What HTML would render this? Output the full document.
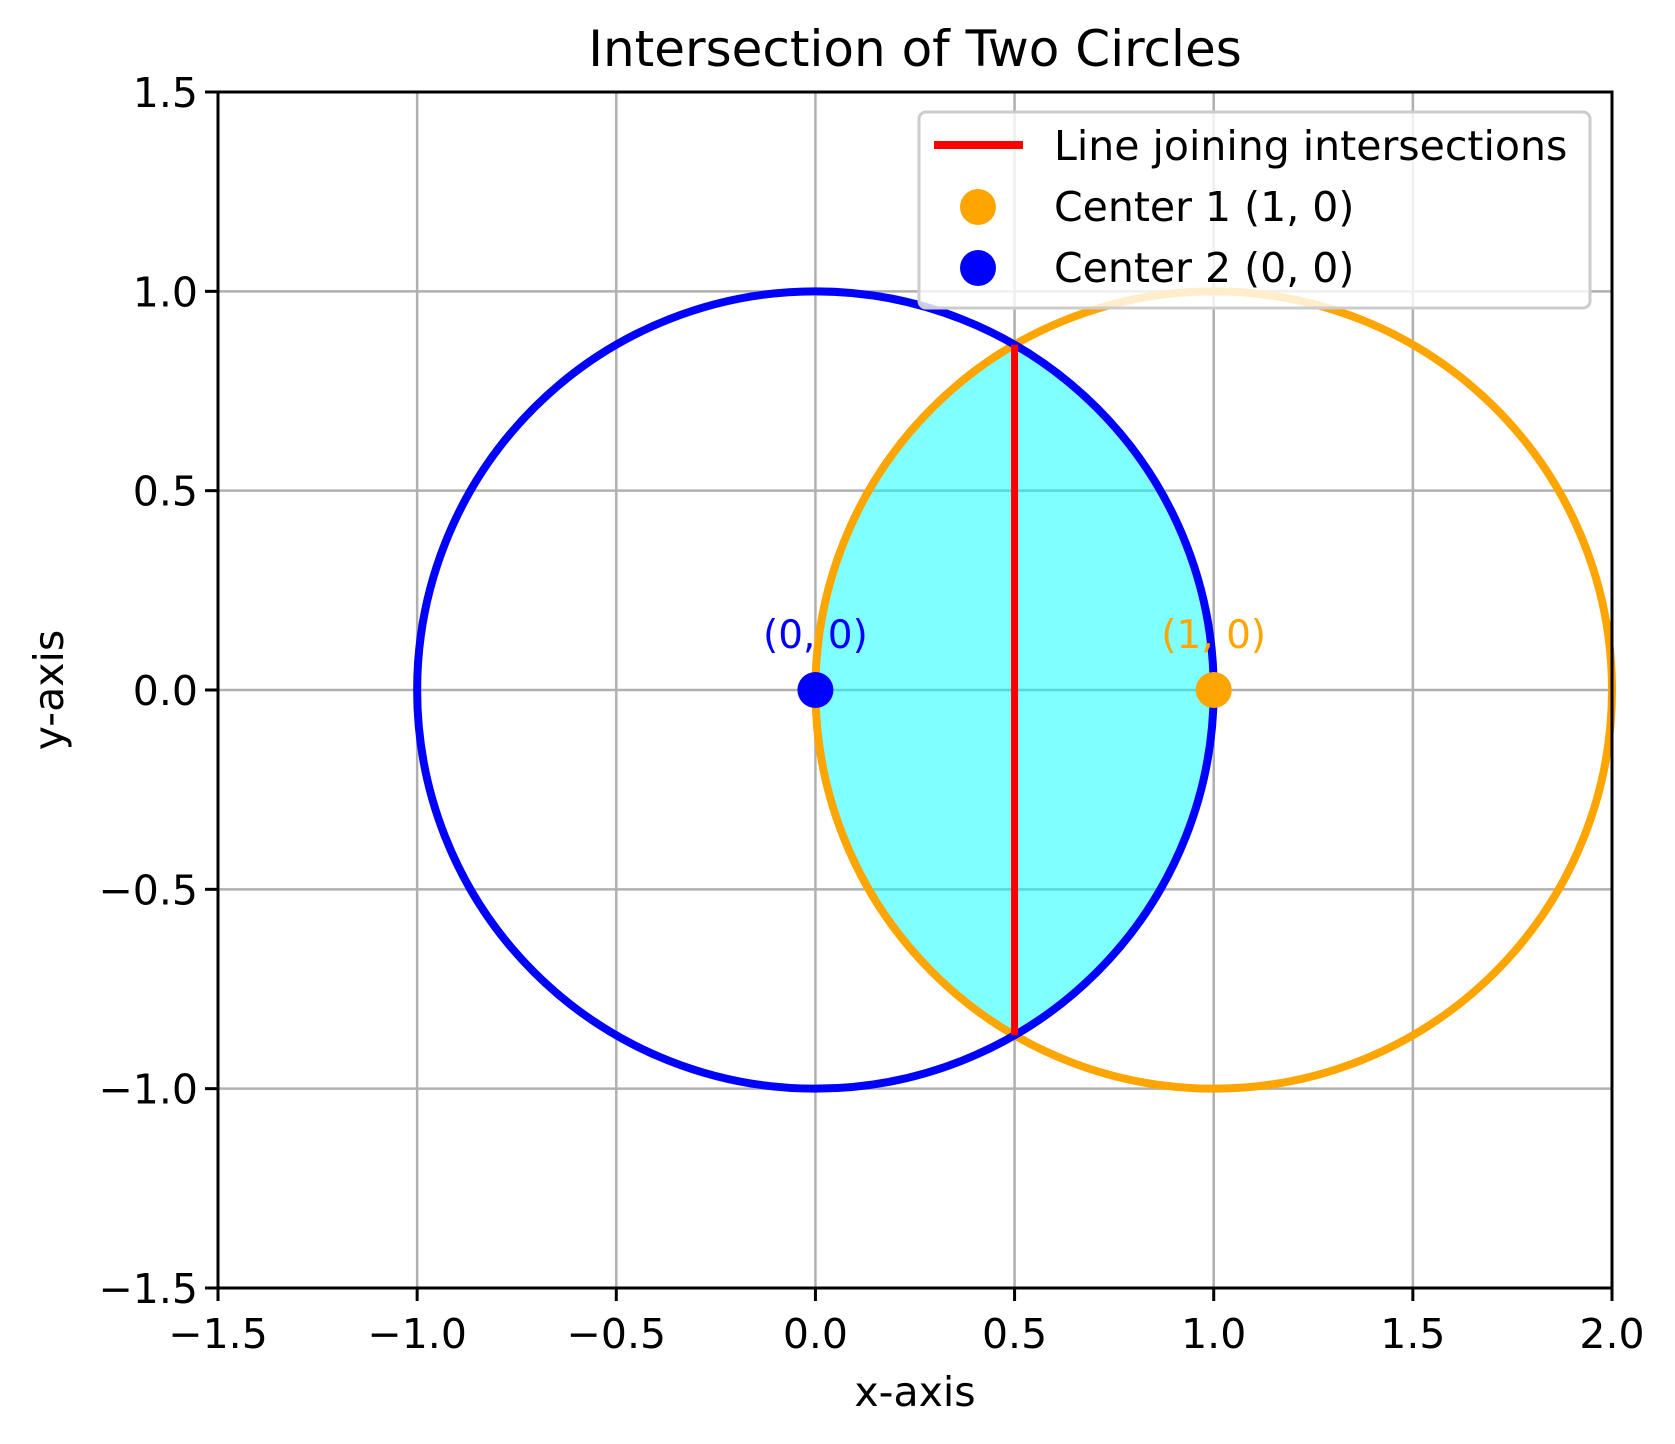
<!DOCTYPE html>
<html><head><meta charset="utf-8"><style>
html,body{margin:0;padding:0;background:#fff;}
svg{display:block;font-family:"DejaVu Sans","Liberation Sans",sans-serif;}
</style></head><body>
<svg id="chart" width="1675" height="1444" viewBox="0 0 1675 1444">
<rect width="1675" height="1444" fill="#fff"/>
<g id="grid"></g>
<g id="plot"></g>
<g id="axes"></g>
<text x="915" y="66" font-size="50" text-anchor="middle">Intersection of Two Circles</text>
<text x="915" y="1406" font-size="41" text-anchor="middle">x-axis</text>
<text x="0" y="0" font-size="41" text-anchor="middle" transform="translate(63,690) rotate(-90)">y-axis</text>
<g>
<rect x="919" y="112" width="671" height="196" rx="7" fill="#fff" fill-opacity="0.8" stroke="#ccc" stroke-width="3"/>
<line x1="934" y1="145" x2="1023" y2="145" stroke="#ff0000" stroke-width="8"/>
<text x="1054" y="160" font-size="41">Line joining intersections</text>
<circle cx="978" cy="207" r="18" fill="orange"/>
<text x="1054" y="221" font-size="41">Center 1 (1, 0)</text>
<circle cx="978" cy="268" r="18" fill="blue"/>
<text x="1054" y="282" font-size="41">Center 2 (0, 0)</text>
</g>
</svg>
<script>
const xTicks=[-1.5,-1.0,-0.5,0.0,0.5,1.0,1.5,2.0];
const yTicks=[-1.5,-1.0,-0.5,0.0,0.5,1.0,1.5];
const centers=[[1,0],[0,0]];
const radii=[1,1];
const centerLabels=["(1, 0)","(0, 0)"];
const colors=["orange","blue"];
const xMin=-1.5,xMax=2.0,yMin=-1.5,yMax=1.5;
const L=218,R=1612,T=92,B=1288;
const sx=v=>L+(v-xMin)/(xMax-xMin)*(R-L);
const sy=v=>B-(v-yMin)/(yMax-yMin)*(B-T);
const NS="http://www.w3.org/2000/svg";
function mk(tag,attrs,parent){const e=document.createElementNS(NS,tag);for(const k in attrs)e.setAttribute(k,attrs[k]);parent.appendChild(e);return e;}
const grid=document.getElementById('grid'),plot=document.getElementById('plot'),axes=document.getElementById('axes');
const fmt=v=>(v<0?'\u2212':'')+Math.abs(v).toFixed(1);
xTicks.forEach(v=>{
 const g=mk('line',{x1:sx(v),x2:sx(v),y1:T,y2:B,stroke:'#b0b0b0','stroke-width':2.5},grid);
 
 
 const t=mk('line',{x1:sx(v),x2:sx(v),y1:B,y2:B+13,stroke:'#000','stroke-width':3},axes);
 
 
 const l=mk('text',{x:sx(v),y:B+60,'font-size':41,'text-anchor':'middle'},axes);
 l.textContent=fmt(v);
 
 
});
yTicks.forEach(v=>{
 const g=mk('line',{x1:L,x2:R,y1:sy(v),y2:sy(v),stroke:'#b0b0b0','stroke-width':2.5},grid);
 
 
 const t=mk('line',{x1:L-13,x2:L,y1:sy(v),y2:sy(v),stroke:'#000','stroke-width':3},axes);
 
 
 const l=mk('text',{x:L-20,y:sy(v)+15,'font-size':41,'text-anchor':'end'},axes);
 l.textContent=fmt(v);
 
 
});
const fr=mk('rect',{x:L,y:T,width:R-L,height:B-T,fill:'none',stroke:'#000','stroke-width':3},axes);


const [c1,c2]=centers,r1=radii[0],r2=radii[1];
const dx=c2[0]-c1[0],dy=c2[1]-c1[1],d=Math.hypot(dx,dy);
const a=(r1*r1-r2*r2+d*d)/(2*d),h=Math.sqrt(Math.max(0,r1*r1-a*a));
const mx=c1[0]+a*dx/d,my=c1[1]+a*dy/d;
const p1=[mx+h*dy/d,my-h*dx/d],p2=[mx-h*dy/d,my+h*dx/d];
const rx1=(sx(r1)-sx(0)),rx2=(sx(r2)-sx(0));
const lens=mk('path',{d:`M${sx(p1[0])},${sy(p1[1])} A${rx1},${rx1} 0 0 0 ${sx(p2[0])},${sy(p2[1])} A${rx2},${rx2} 0 0 0 ${sx(p1[0])},${sy(p1[1])} Z`,fill:'#00ffff','fill-opacity':0.5,stroke:'none'},plot);


centers.forEach((c,i)=>{
 const e=mk('ellipse',{cx:sx(c[0]),cy:sy(c[1]),rx:sx(radii[i])-sx(0),ry:sy(0)-sy(radii[i]),fill:'none',stroke:colors[i],'stroke-width':8},plot);
 
 
});
const rl=mk('line',{x1:sx(p1[0]),y1:sy(p1[1]),x2:sx(p2[0]),y2:sy(p2[1]),stroke:'#ff0000','stroke-width':7},plot);


centers.forEach((c,i)=>{
 const m=mk('circle',{cx:sx(c[0]),cy:sy(c[1]),r:18,fill:colors[i]},plot);
 
 
 const t=mk('text',{x:sx(c[0]),y:sy(c[1])-42,'font-size':39,'text-anchor':'middle',fill:colors[i]},plot);
 t.textContent=centerLabels[i];
 
 
});
</script>
</body></html>
